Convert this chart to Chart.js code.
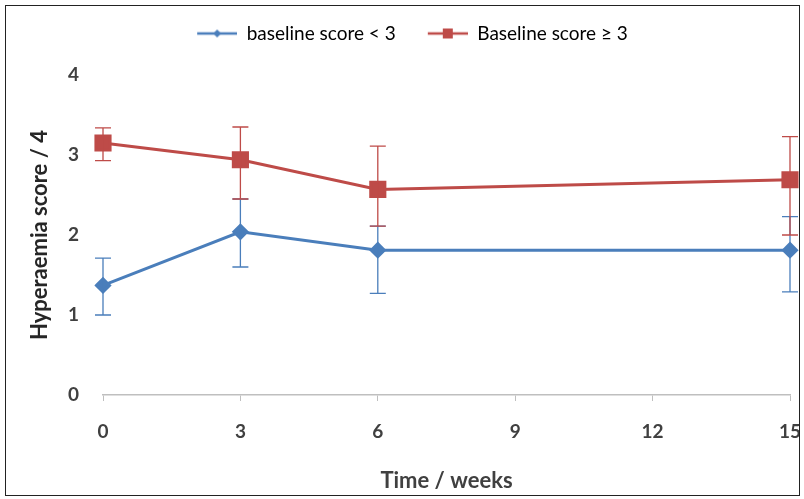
<!DOCTYPE html>
<html>
<head>
<meta charset="utf-8">
<script src="https://cdn.jsdelivr.net/npm/chart.js@4"></script>
<style>
    html, body { margin: 0; padding: 0; background: #fff; }
    #wrap {
        position: absolute;
        left: 5px; top: 5px;
        width: 793px; height: 489px;
        border: 1px solid #222;
    }
</style>
</head>
<body>
<div id="wrap"><canvas id="chart" width="793" height="489"></canvas></div>
<script>
// Data
const weeks = [0, 3, 6, 15];
const xTicks = [0, 3, 6, 9, 12, 15];
const yTicks = [0, 1, 2, 3, 4];

const lowLabel = 'baseline score < 3';
const lowMean = [1.37, 2.04, 1.81, 1.81];
const lowErrLow = [1.0, 1.6, 1.27, 1.29];
const lowErrHigh = [1.71, 2.45, 2.11, 2.23];

const highLabel = 'Baseline score \u2265 3';
const highMean = [3.15, 2.94, 2.57, 2.69];
const highErrLow = [2.93, 2.45, 2.11, 2.0];
const highErrHigh = [3.34, 3.35, 3.11, 3.23];

const blue = '#4a7ebb';
const red = '#be4b48';

// Legend symbol: short line with the marker in the middle (left part left blank as spacing)
function legendIcon(color, shape) {
    const c = document.createElement('canvas');
    c.width = 54; c.height = 14;
    const g = c.getContext('2d');
    g.strokeStyle = color;
    g.lineWidth = 2.5;
    g.beginPath(); g.moveTo(14, 7); g.lineTo(54, 7); g.stroke();
    g.fillStyle = color;
    if (shape === 'square') {
        g.fillRect(29, 2, 10, 10);
    } else {
        g.beginPath();
        g.moveTo(34, 3); g.lineTo(38, 7); g.lineTo(34, 11); g.lineTo(30, 7);
        g.closePath(); g.fill();
    }
    return c;
}

const toPoints = (ys) => weeks.map((w, i) => ({ x: w, y: ys[i] }));

// Error bars drawn through the chart scales
const errorBars = {
    id: 'errorBars',
    afterDatasetsDraw(chart) {
        const { ctx, scales: { x, y } } = chart;
        const sets = [
            { lo: lowErrLow, hi: lowErrHigh, color: blue },
            { lo: highErrLow, hi: highErrHigh, color: red }
        ];
        ctx.save();
        ctx.lineWidth = 1.3;
        sets.forEach(s => {
            ctx.strokeStyle = s.color;
            weeks.forEach((w, i) => {
                const px = x.getPixelForValue(w);
                const pLo = y.getPixelForValue(s.lo[i]);
                const pHi = y.getPixelForValue(s.hi[i]);
                ctx.beginPath();
                ctx.moveTo(px, pLo); ctx.lineTo(px, pHi);
                ctx.moveTo(px - 8, pLo); ctx.lineTo(px + 8, pLo);
                ctx.moveTo(px - 8, pHi); ctx.lineTo(px + 8, pHi);
                ctx.stroke();
            });
        });
        ctx.restore();
    }
};

// Give the legend a fixed height so the plot starts lower
const legendSpace = {
    id: 'legendSpace',
    beforeInit(chart) {
        const fit = chart.legend.fit;
        chart.legend.fit = function() {
            fit.call(this);
            this.height = 69;
        };
    }
};

const tickFont = { family: 'Lato', size: 19, weight: 'bold' };
const titleFont = { family: 'Lato', size: 22, weight: 'bold' };

new Chart(document.getElementById('chart'), {
    type: 'line',
    data: {
        datasets: [
            {
                label: lowLabel,
                data: toPoints(lowMean),
                borderColor: blue,
                backgroundColor: blue,
                borderWidth: 3,
                pointStyle: 'rectRot',
                pointRadius: 6.5,
                pointHoverRadius: 6.5,
                tension: 0,
                clip: false
            },
            {
                label: highLabel,
                data: toPoints(highMean),
                borderColor: red,
                backgroundColor: red,
                borderWidth: 3,
                pointStyle: 'rect',
                pointRadius: 10,
                pointHoverRadius: 10,
                tension: 0,
                clip: false
            }
        ]
    },
    options: {
        responsive: false,
        animation: false,
        layout: { autoPadding: false, padding: { top: 0, left: 0, bottom: 0, right: -6 } },
        plugins: {
            legend: {
                position: 'top',
                labels: {
                    usePointStyle: true,
                    pointStyleWidth: 54,
                    boxHeight: 14,
                    padding: 18,
                    color: '#595959',
                    font: { family: 'Lato', size: 19 },
                    generateLabels(chart) {
                        return chart.data.datasets.map((ds, i) => ({
                            text: ds.label,
                            pointStyle: legendIcon(ds.borderColor, i === 0 ? 'diamond' : 'square'),
                            fillStyle: ds.borderColor,
                            strokeStyle: ds.borderColor,
                            lineWidth: 0,
                            datasetIndex: i,
                            hidden: false
                        }));
                    }
                }
            },
            tooltip: { enabled: false }
        },
        scales: {
            x: {
                type: 'linear',
                min: 0,
                max: 15,
                afterFit(scale) {
                    scale.height = 100;
                    scale.paddingLeft = 0;
                    scale.paddingRight = 9;
                },
                afterBuildTicks(scale) { scale.ticks = xTicks.map(v => ({ value: v })); },
                grid: {
                    display: true,
                    drawOnChartArea: false,
                    drawTicks: true,
                    tickLength: 6,
                    color: '#bfbfbf'
                },
                border: { color: '#bfbfbf', width: 1.5 },
                ticks: {
                    padding: 19,
                    color: '#404040',
                    font: tickFont,
                    maxRotation: 0
                },
                title: {
                    display: true,
                    text: 'Time / weeks',
                    color: '#404040',
                    font: titleFont,
                    padding: { top: 0, bottom: 1 }
                }
            },
            y: {
                min: 0,
                max: 4,
                afterFit(scale) { scale.width = 97; },
                afterBuildTicks(scale) { scale.ticks = yTicks.map(v => ({ value: v })); },
                grid: { display: false, drawTicks: false },
                border: { display: false },
                ticks: {
                    padding: 24,
                    color: '#404040',
                    font: tickFont
                },
                title: {
                    display: true,
                    text: 'Hyperaemia score / 4',
                    color: '#262626',
                    font: titleFont,
                    padding: { top: 21, bottom: 0 }
                }
            }
        }
    },
    plugins: [errorBars, legendSpace]
});
</script>
</body>
</html>
